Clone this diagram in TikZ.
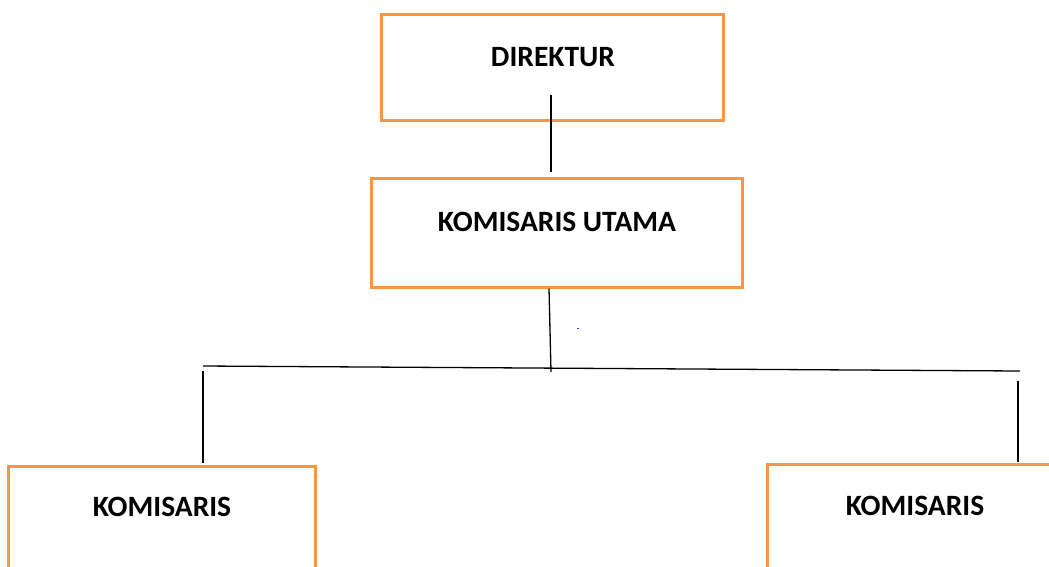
\documentclass[tikz,border=0pt]{standalone}
\usepackage{fontspec}
\setmainfont{Carlito}
\usetikzlibrary{calc}
\definecolor{boxorange}{HTML}{F79646}
\tikzset{
  x=1pt, y=1pt,
  orgbox/.style={draw=boxorange, line width=3pt, rectangle, inner sep=0pt, fill=none},
  lbl/.style={font=\fontsize{29.5}{32}\selectfont\bfseries, inner sep=0pt, anchor=center},
  conn/.style={draw=black, line width=1.3pt}
}
\begin{document}
\begin{tikzpicture}
\useasboundingbox (0,0) rectangle (1049,-566);
\clip (0,0) rectangle (1049,-566);
\fill[white] (0,0) rectangle (1049,-566);
% boxes
\node[orgbox, minimum width=342pt, minimum height=106pt] (dir) at (552,-67) {};
\node[lbl] (dirt) at (553,-57) {DIREKTUR};
\node[orgbox, minimum width=371pt, minimum height=109pt] (ku) at (556.5,-232.5) {};
\node[lbl] (kut) at (557,-222) {KOMISARIS UTAMA};
\node[orgbox, minimum width=307pt, minimum height=110pt] (kl) at (161.5,-521) {};
\node[lbl] (klt) at (162,-507) {KOMISARIS};
\node[orgbox, minimum width=296pt, minimum height=110pt] (kr) at (915,-519) {};
\node[lbl] (krt) at (915,-506) {KOMISARIS};
% connector points
\coordinate (hl) at (203,-366);
\coordinate (hr) at (1020,-371);
\coordinate (hm) at (551,-372);
% connectors
\draw[conn] ($(dir.south)+(-1,27)$) -- ($(ku.north)+(-5.5,5)$);
\draw[conn] ($(ku.south)+(-7.5,0)$) -- (hm);
\draw[conn] (hl) -- (hr);
\draw[conn] ($(kl.north)+(41.5,94)$) -- ($(kl.north)+(41.5,2)$);
\draw[conn] ($(kr.north)+(103,82)$) -- ($(kr.north)+(103,1)$);
% tiny blue mark
\fill[blue!70!cyan] (577,-327.5) rectangle (579,-328.5);
\end{tikzpicture}
\end{document}
